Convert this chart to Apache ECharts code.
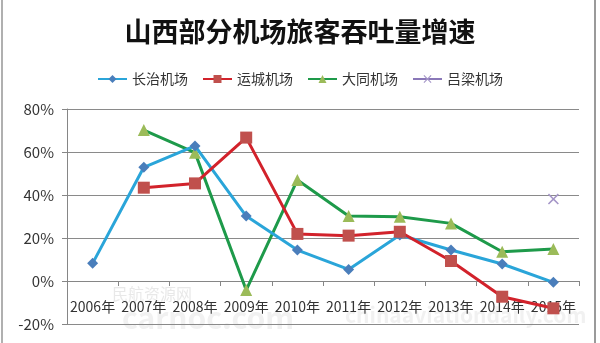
<!DOCTYPE html>
<html>
<head>
<meta charset="utf-8">
<script src="https://cdn.jsdelivr.net/npm/echarts@6/dist/echarts.min.js"></script>
<style>html,body{margin:0;padding:0;background:#fff;}#c{width:600px;height:343px;}</style>
</head>
<body>
<div id="c"></div>
<script>
var categories = ['2006年','2007年','2008年','2009年','2010年','2011年','2012年','2013年','2014年','2015年'];
var changzhi = [8.2, 52.9, 62.8, 30.2, 14.4, 5.4, 21.4, 14.4, 7.9, -0.6];
var yuncheng = [null, 43.4, 45.4, 66.7, 21.9, 21.1, 22.9, 9.3, -7.3, -12.7];
var datong = [null, 70.2, 59.7, -4.2, 47.0, 30.2, 29.9, 26.8, 13.6, 14.9];
var lvliang = [null, null, null, null, null, null, null, null, null, 38.1];
var yTicks = {min: -20, max: 80, interval: 20};

var font = '"Noto Sans CJK SC", "Microsoft YaHei", sans-serif';
var chart = echarts.init(document.getElementById('c'), null, {renderer: 'canvas'});
var xPath = 'path://M0,1L1,0L5,4L9,0L10,1L6,5L10,9L9,10L5,6L1,10L0,9L4,5Z';
var gridTop = 109, gridBottom = 19;
var gridH = 343 - gridTop - gridBottom;
var zeroOffset = -gridH * (0 - yTicks.min) / (yTicks.max - yTicks.min);
chart.setOption({
  animation: false,
  backgroundColor: '#fff',
  title: {
    text: '山西部分机场旅客吞吐量增速',
    left: 'center', top: 13,
    textStyle: {fontFamily: font, fontSize: 27, fontWeight: 'bold', color: '#111'}
  },
  legend: {
    top: 67, left: 'center',
    itemWidth: 29, itemHeight: 10, itemGap: 14,
    textStyle: {fontFamily: font, fontSize: 14, color: '#333'},
    data: ['长治机场','运城机场','大同机场','吕梁机场']
  },
  grid: {left: 67, right: 21, top: gridTop, bottom: gridBottom, containLabel: false, outerBoundsMode: 'none'},
  xAxis: {
    type: 'category', data: categories, boundaryGap: true,
    position: 'bottom', offset: zeroOffset,
    axisLine: {onZero: false, lineStyle: {color: '#868686', width: 1}},
    axisTick: {show: true, length: 5, lineStyle: {color: '#868686'}},
    axisLabel: {interval: 0, margin: 19, fontFamily: font, fontSize: 14, color: '#333'}
  },
  yAxis: {
    type: 'value', min: yTicks.min, max: yTicks.max, interval: yTicks.interval,
    axisLine: {show: true, lineStyle: {color: '#868686'}},
    axisTick: {show: true, length: 5, lineStyle: {color: '#868686'}},
    axisLabel: {formatter: '{value}%', margin: 13, fontFamily: font, fontSize: 15, color: '#333'},
    splitLine: {lineStyle: {color: '#8a8a8a', width: 1}}
  },
  series: [
    {name: '长治机场', type: 'line', data: changzhi,
     symbol: 'diamond', symbolSize: 11,
     lineStyle: {color: '#2AA5D9', width: 3},
     itemStyle: {color: '#4A7EBB'}, z: 3},
    {name: '运城机场', type: 'line', data: yuncheng,
     symbol: 'rect', symbolSize: 12,
     lineStyle: {color: '#D2222B', width: 3},
     itemStyle: {color: '#C0504D'}, z: 4},
    {name: '大同机场', type: 'line', data: datong,
     symbol: 'triangle', symbolSize: 12,
     lineStyle: {color: '#1E9A4A', width: 3},
     itemStyle: {color: '#9BBB59'}, z: 2},
    {name: '吕梁机场', type: 'line', data: lvliang,
     symbol: xPath, symbolSize: 11,
     lineStyle: {color: '#8A78B8', width: 3},
     itemStyle: {color: '#A596C8'}, z: 5}
  ],
  graphic: [
    {type: 'rect', shape: {x: 1, y: 0, width: 2, height: 343}, style: {fill: '#b0b0b0'}},
    {type: 'rect', shape: {x: 594, y: 0, width: 2, height: 343}, style: {fill: '#9a9a9a'}},
    {type: 'text', left: 112, top: 286, z: -1, style: {text: '民航资源网', fontFamily: font, fontSize: 16, fill: 'rgba(190,190,190,0.35)'}},
    {type: 'text', left: 122, top: 303, z: -1, style: {text: 'carnoc.com', fontFamily: font, fontSize: 30, fontWeight: 'bold', fill: 'rgba(200,200,200,0.25)'}},
    {type: 'text', left: 345, top: 305, z: -1, style: {text: 'chinaaviationdaily.com', fontFamily: font, fontSize: 21, fontWeight: 'bold', fill: 'rgba(200,200,200,0.25)'}}
  ]
});
</script>
</body>
</html>
